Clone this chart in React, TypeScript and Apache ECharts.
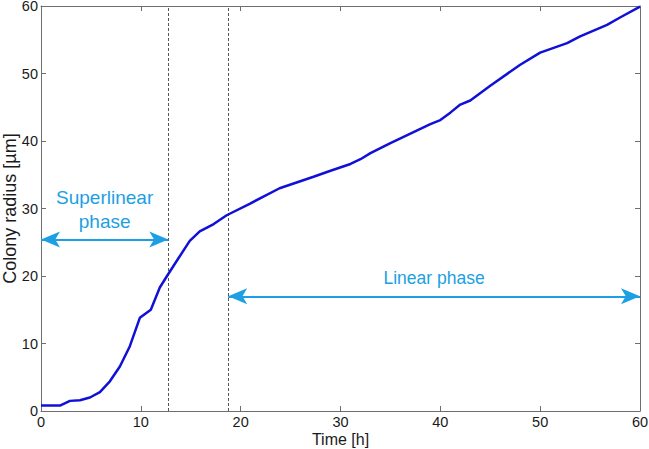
import React, { useEffect, useRef } from "react";
import * as echarts from "echarts";

const timeH = [0, 1.9, 2.9, 3.9, 4.9, 5.9, 6.9, 7.9, 8.9, 9.9, 11, 11.9, 12.75, 13.8, 14.9, 15.9, 17.3, 18.6, 20.9, 23.9, 27.3, 29, 31, 32, 33, 35, 37, 39, 40, 41, 42, 43, 45, 48, 50, 52.7, 54, 56.7, 58, 60];
const radiusUm = [0.8, 0.8, 1.5, 1.6, 2.0, 2.8, 4.4, 6.6, 9.6, 13.8, 15.0, 18.3, 20.3, 22.7, 25.2, 26.6, 27.7, 29.0, 30.7, 33.0, 34.7, 35.6, 36.6, 37.3, 38.2, 39.7, 41.1, 42.5, 43.1, 44.2, 45.4, 46.0, 48.2, 51.3, 53.1, 54.5, 55.5, 57.2, 58.3, 59.9];

const phaseBounds = [12.75, 18.75];
const superlinearArrow = { from: 0, to: 12.75, y: 25.4, text: "Superlinear\nphase", size: 19 };
const linearArrow = { from: 18.75, to: 60, y: 17.0, text: "Linear phase", size: 17.5 };

const AXIS_COLOR = "#6e6e6e";
const ARROW_COLOR = "#1ca0e3";
const FONT = "'Liberation Sans', Arial, sans-serif";

export default function App() {
  const ref = useRef<HTMLDivElement>(null);
  useEffect(() => {
    if (!ref.current) return;
    const chart = echarts.init(ref.current, null, { renderer: "svg" });
    const axisCommon = {
      type: "value" as const,
      min: 0,
      max: 60,
      interval: 10,
      splitLine: { show: false },
      axisLine: { show: true, onZero: false, lineStyle: { color: AXIS_COLOR, width: 1 } },
      axisTick: { show: true, inside: true, length: 5, lineStyle: { color: AXIS_COLOR } },
    };
    const labelStyle = { color: "#1a1a1a", fontSize: 14.5, fontFamily: FONT };
    const arrowLine = (a: typeof linearArrow) => [
      { coord: [a.from, a.y], label: { show: true, formatter: a.text, fontSize: a.size } },
      { coord: [a.to, a.y] },
    ];
    chart.setOption({
      animation: false,
      backgroundColor: "#ffffff",
      grid: { left: 41, right: 9, top: 6, bottom: 38, containLabel: false, outerBoundsMode: "none" },
      xAxis: [
        {
          ...axisCommon,
          position: "bottom",
          name: "Time [h]",
          nameLocation: "middle",
          nameGap: 20,
          nameMoveOverlap: false,
          nameTextStyle: { ...labelStyle, fontSize: 16 },
          axisLabel: { ...labelStyle, margin: 3 },
        },
        { ...axisCommon, position: "top", axisLabel: { show: false } },
      ],
      yAxis: [
        {
          ...axisCommon,
          position: "left",
          name: "Colony radius [µm]",
          nameLocation: "middle",
          nameGap: 22,
          nameMoveOverlap: false,
          nameTextStyle: { ...labelStyle, fontSize: 18 },
          axisLabel: { ...labelStyle, margin: 3 },
        },
        { ...axisCommon, position: "right", axisLabel: { show: false } },
      ],
      series: [
        {
          type: "line",
          xAxisIndex: 0,
          yAxisIndex: 0,
          data: timeH.map((t, i) => [t, radiusUm[i]]),
          showSymbol: false,
          symbol: "none",
          lineStyle: { color: "#1010d8", width: 2.5 },
          z: 5,
        },
        {
          type: "line",
          xAxisIndex: 0,
          yAxisIndex: 0,
          data: [],
          markLine: {
            silent: true,
            symbol: ["none", "none"],
            label: { show: false },
            lineStyle: { color: "#555555", type: [3, 2], width: 1 },
            data: phaseBounds.map((x) => ({ xAxis: x })),
          },
        },
        {
          type: "line",
          xAxisIndex: 0,
          yAxisIndex: 0,
          data: [],
          markLine: {
            silent: true,
            symbol: ["arrow", "arrow"],
            symbolSize: [12, 19],
            lineStyle: { color: ARROW_COLOR, type: "solid", width: 2 },
            label: {
              show: true,
              position: "insideMiddleTop",
              distance: 6,
              color: ARROW_COLOR,
              lineHeight: 24,
              fontFamily: FONT,
            },
            data: [arrowLine(superlinearArrow), arrowLine(linearArrow)],
          },
        },
      ],
    });
    return () => chart.dispose();
  }, []);
  return (
    <div
      ref={ref}
      style={{ position: "fixed", left: 0, top: 0, width: 649, height: 449 }}
    />
  );
}
